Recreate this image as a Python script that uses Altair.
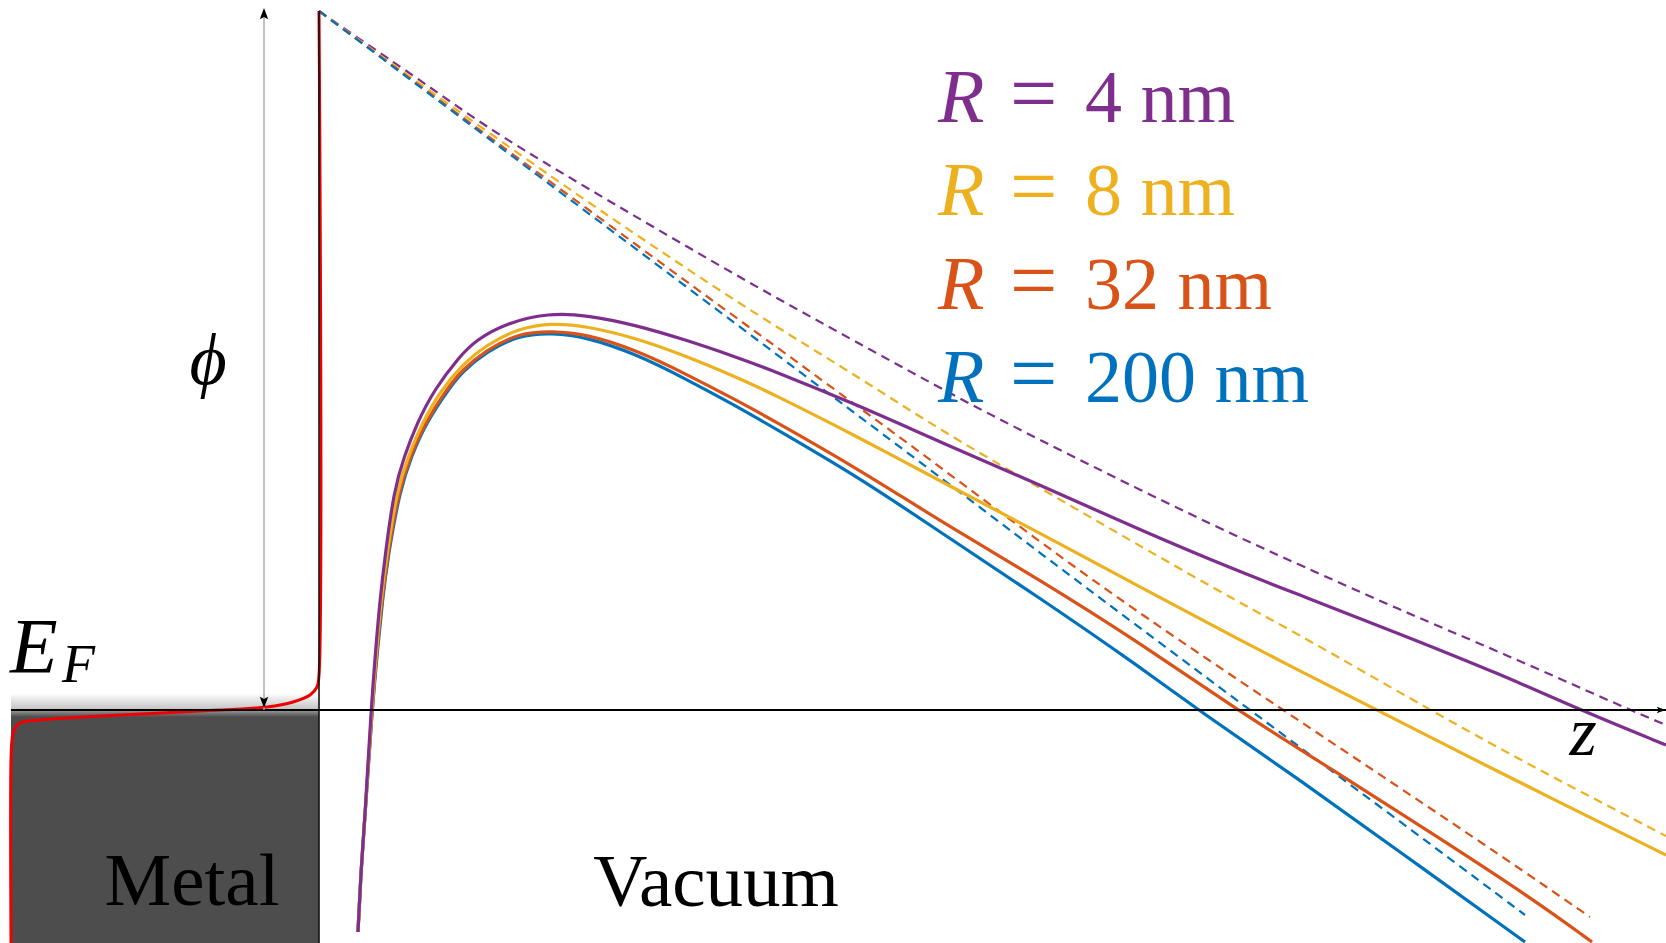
import altair as alt
import pandas as pd

# Energy diagram of a metal surface under a field: energies relative to E_F,
# distance z from the surface (arbitrary units, no ticks are drawn).
Z_MIN, Z_MAX = -3.19, 13.47
E_MIN, E_MAX = -2.33, 7.10
PHI = 6.99           # barrier height at the surface
Z_METAL = -3.08      # left end of the metal block
Z_ARROW = -0.55      # position of the work-function arrow

RADII = ["4", "8", "32", "200"]
COLORS = ["#7E2F8E", "#EDB120", "#D95319", "#0072BD"]

# total barrier including the image-charge term
z_solid_4 = [0.39, 0.42, 0.46, 0.52, 0.57, 0.61, 0.66, 0.75, 0.85, 0.98, 1.15, 1.40, 1.57, 1.87, 2.30,
             2.67, 3.17, 3.67, 4.17, 4.50, 5.41, 6.21, 7.21, 8.21, 9.21, 9.81, 10.81, 11.81, 12.61, 13.47]
E_solid_4 = [-2.22, -1.60, -1.07, 0.00, 0.65, 1.10, 1.54, 2.20, 2.53, 2.87, 3.20, 3.53, 3.70, 3.87, 3.97,
             3.95, 3.85, 3.70, 3.53, 3.41, 3.04, 2.68, 2.25, 1.80, 1.38, 1.15, 0.76, 0.36, 0.00, -0.35]

z_solid_8 = [0.39, 0.42, 0.46, 0.525, 0.58, 0.62, 0.675, 0.78, 0.89, 1.03, 1.22, 1.43, 1.67, 2.00, 2.33,
             2.67, 3.17, 3.67, 4.17, 4.50, 5.41, 6.21, 7.21, 8.21, 9.21, 9.81, 10.58, 11.48, 12.48, 13.47]
E_solid_8 = [-2.22, -1.60, -1.07, 0.00, 0.65, 1.10, 1.54, 2.20, 2.53, 2.87, 3.20, 3.45, 3.65, 3.82, 3.87,
             3.84, 3.72, 3.54, 3.33, 3.18, 2.72, 2.29, 1.77, 1.23, 0.70, 0.39, 0.00, -0.46, -0.96, -1.45]

z_solid_32 = [0.39, 0.42, 0.46, 0.53, 0.585, 0.63, 0.685, 0.80, 0.91, 1.06, 1.27, 1.43, 1.67, 2.00, 2.33,
              2.67, 3.17, 3.67, 4.17, 4.50, 5.41, 6.21, 7.21, 8.21, 9.18, 10.14, 11.14, 12.14, 12.73]
E_solid_32 = [-2.22, -1.60, -1.07, 0.00, 0.65, 1.10, 1.54, 2.20, 2.53, 2.87, 3.20, 3.40, 3.60, 3.77, 3.79,
              3.76, 3.60, 3.36, 3.10, 2.92, 2.40, 1.89, 1.30, 0.67, 0.00, -0.60, -1.24, -1.89, -2.32]

z_solid_200 = [0.39, 0.42, 0.46, 0.53, 0.59, 0.635, 0.69, 0.81, 0.92, 1.07, 1.29, 1.43, 1.67, 2.00, 2.33,
               2.67, 3.17, 3.67, 4.17, 4.50, 5.41, 6.21, 7.21, 8.21, 8.79, 9.81, 10.81, 12.06]
E_solid_200 = [-2.22, -1.60, -1.07, 0.00, 0.65, 1.10, 1.54, 2.20, 2.53, 2.87, 3.20, 3.38, 3.58, 3.75, 3.77,
               3.73, 3.56, 3.31, 3.04, 2.85, 2.32, 1.78, 1.12, 0.43, 0.00, -0.70, -1.42, -2.32]

# applied potential alone (no image charge)
z_dash_4 = [0, 0.33, 1.01, 1.67, 2.41, 3.41, 4.41, 5.41, 6.41, 7.21, 8.21, 9.21, 9.81, 10.81, 11.81, 13.11, 13.47]
E_dash_4 = [6.99, 6.76, 6.30, 5.83, 5.38, 4.79, 4.21, 3.66, 3.11, 2.70, 2.20, 1.72, 1.45, 1.00, 0.58, 0.00, -0.15]

z_dash_8 = [0, 1.01, 2.41, 3.41, 4.41, 5.41, 6.21, 7.21, 8.21, 9.21, 9.81, 11.11, 12.14, 13.47]
E_dash_8 = [6.99, 6.26, 5.27, 4.59, 3.93, 3.32, 2.80, 2.22, 1.64, 1.07, 0.75, 0.00, -0.57, -1.26]

z_dash_32 = [0, 1.01, 2.41, 3.90, 4.41, 5.41, 6.21, 7.21, 8.21, 9.64, 10.81, 11.81, 12.71]
E_dash_32 = [6.99, 6.24, 5.21, 4.12, 3.75, 3.02, 2.43, 1.68, 0.96, 0.00, -0.78, -1.45, -2.07]

z_dash_200 = [0, 1.01, 2.41, 4.41, 6.21, 7.21, 8.21, 9.31, 10.14, 11.14, 12.06]
E_dash_200 = [6.99, 6.23, 5.18, 3.68, 2.33, 1.57, 0.82, 0.00, -0.62, -1.36, -2.05]

# occupation edge at the Fermi level, running up the wall
z_fermi = [-3.08, -3.08, -3.07, -3.05, -2.99, -2.79, -2.19, -1.19, -0.52, -0.26, -0.09, -0.02, 0.00, 0.00]
E_fermi = [-2.33, -0.50, -0.30, -0.20, -0.13, -0.10, -0.06, -0.01, 0.03, 0.08, 0.15, 0.23, 0.35, 6.99]

SOLID = [(z_solid_4, E_solid_4), (z_solid_8, E_solid_8), (z_solid_32, E_solid_32), (z_solid_200, E_solid_200)]
DASHED = [(z_dash_4, E_dash_4), (z_dash_8, E_dash_8), (z_dash_32, E_dash_32), (z_dash_200, E_dash_200)]

W, H = 1666, 943
SERIF = "Liberation Serif"

xsc = alt.Scale(domain=[Z_MIN, Z_MAX], nice=False, zero=False)
ysc = alt.Scale(domain=[E_MIN, E_MAX], nice=False, zero=False)


def X(f="z"):
    return alt.X(f"{f}:Q", scale=xsc, axis=None)


def Y(f="E"):
    return alt.Y(f"{f}:Q", scale=ysc, axis=None)


def curve(zs, Es):
    return pd.DataFrame({"z": zs, "E": Es, "i": list(range(len(zs)))})


def box(z0, z1, e0, e1):
    return pd.DataFrame({"z": [z0], "z2": [z1], "E": [e0], "E2": [e1]})


layers = []

# soft shading just above the Fermi level inside the metal
shade_up = alt.Chart(box(Z_METAL, 0, 0.0, 0.17)).mark_rect(
    color=alt.Gradient(gradient="linear", x1=0, x2=0, y1=0, y2=1,
                       stops=[alt.GradientStop(color="#ffffff", offset=0),
                              alt.GradientStop(color="#c2c2c2", offset=1)])
).encode(x=X(), x2="z2:Q", y=Y(), y2="E2:Q")
layers.append(shade_up)

# filled states of the metal
metal = alt.Chart(box(Z_METAL, 0, E_MIN, -0.06)).mark_rect(color="#4d4d4d").encode(
    x=X(), x2="z2:Q", y=Y(), y2="E2:Q")
layers.append(metal)
metal_edge = alt.Chart(box(Z_METAL, 0, -0.07, 0.0)).mark_rect(
    color=alt.Gradient(gradient="linear", x1=0, x2=0, y1=0, y2=1,
                       stops=[alt.GradientStop(color="#9c9c9c", offset=0),
                              alt.GradientStop(color="#4d4d4d", offset=1)])
).encode(x=X(), x2="z2:Q", y=Y(), y2="E2:Q")
layers.append(metal_edge)

# applied potential, dashed
for (zs, Es), col in zip(DASHED, COLORS):
    layers.append(
        alt.Chart(curve(zs, Es)).mark_line(
            color=col, strokeWidth=2.2, strokeDash=[9, 6], interpolate="basis", clip=True
        ).encode(x=X(), y=Y(), order="i:Q")
    )

# full barrier, solid (largest radius underneath)
for (zs, Es), col in reversed(list(zip(SOLID, COLORS))):
    layers.append(
        alt.Chart(curve(zs, Es)).mark_line(
            color=col, strokeWidth=3.2, interpolate="basis", clip=True
        ).encode(x=X(), y=Y(), order="i:Q")
    )

# Fermi edge (red), then the surface wall on top of it
layers.append(
    alt.Chart(curve(z_fermi, E_fermi)).mark_line(
        color="#ee0000", strokeWidth=3, interpolate="catmull-rom", clip=True
    ).encode(x=X(), y=Y(), order="i:Q")
)
layers.append(
    alt.Chart(pd.DataFrame({"z": [0.0], "E": [E_MIN], "E2": [PHI]})).mark_rule(
        color="#111111", strokeWidth=1.6
    ).encode(x=X(), y=Y(), y2="E2:Q")
)

# energy axis at E_F with arrow along z
layers.append(
    alt.Chart(pd.DataFrame({"z": [Z_METAL], "z2": [Z_MAX], "E": [0.0]})).mark_rule(
        color="black", strokeWidth=2
    ).encode(x=X(), x2="z2:Q", y=Y())
)
layers.append(
    alt.Chart(pd.DataFrame({"z": [Z_MAX - 0.005], "E": [0.0]})).mark_point(
        shape="M0,0L-1,-0.38L-0.8,0L-1,0.38Z", size=300, filled=True, color="black", opacity=1
    ).encode(x=X(), y=Y())
)

# work function arrow
layers.append(
    alt.Chart(pd.DataFrame({"z": [Z_ARROW], "E": [0.0], "E2": [PHI]})).mark_rule(
        color="#a8a8a8", strokeWidth=1.4
    ).encode(x=X(), y=Y(), y2="E2:Q")
)
layers.append(
    alt.Chart(pd.DataFrame({"z": [Z_ARROW], "E": [PHI + 0.03]})).mark_point(
        shape="M0,0L-0.38,1L0,0.8L0.38,1Z", size=500, filled=True, color="black", opacity=1
    ).encode(x=X(), y=Y())
)
layers.append(
    alt.Chart(pd.DataFrame({"z": [Z_ARROW], "E": [0.02]})).mark_point(
        shape="M0,0L-0.38,-1L0,-0.8L0.38,-1Z", size=500, filled=True, color="black", opacity=1
    ).encode(x=X(), y=Y())
)


def label(text, x, y, size, color="black", italic=False, align="left", baseline="alphabetic"):
    return alt.Chart(pd.DataFrame({"t": [text]})).mark_text(
        font=SERIF, fontSize=size, fontStyle="italic" if italic else "normal",
        color=color, align=align, baseline=baseline
    ).encode(x=alt.value(x), y=alt.value(y), text="t:N")


layers.append(label("\u03d5", 208, 362, 72, italic=True, align="center", baseline="middle"))
layers.append(label("E", 10, 672, 78, italic=True))
layers.append(label("F", 62, 682, 54, italic=True))
layers.append(label("Metal", 192, 905, 75, align="center"))
layers.append(label("Vacuum", 716, 906, 75, align="center"))
layers.append(label("z", 1583, 755, 70, italic=True, align="center"))

# legend of radii
for k, (r, col) in enumerate(zip(RADII, COLORS)):
    base = 122 + 93.3 * k
    layers.append(label("R", 938, base, 76, color=col, italic=True))
    layers.append(label("=", 1010, base, 84, color=col))
    layers.append(label(f"{r} nm", 1085, base, 74, color=col))

chart = alt.layer(*layers).properties(
    width=W, height=H, padding=0, autosize=alt.AutoSizeParams(type="none"), background="white"
).configure_view(stroke=None)

chart.save("out.html", embed_options={"renderer": "svg", "actions": False})
